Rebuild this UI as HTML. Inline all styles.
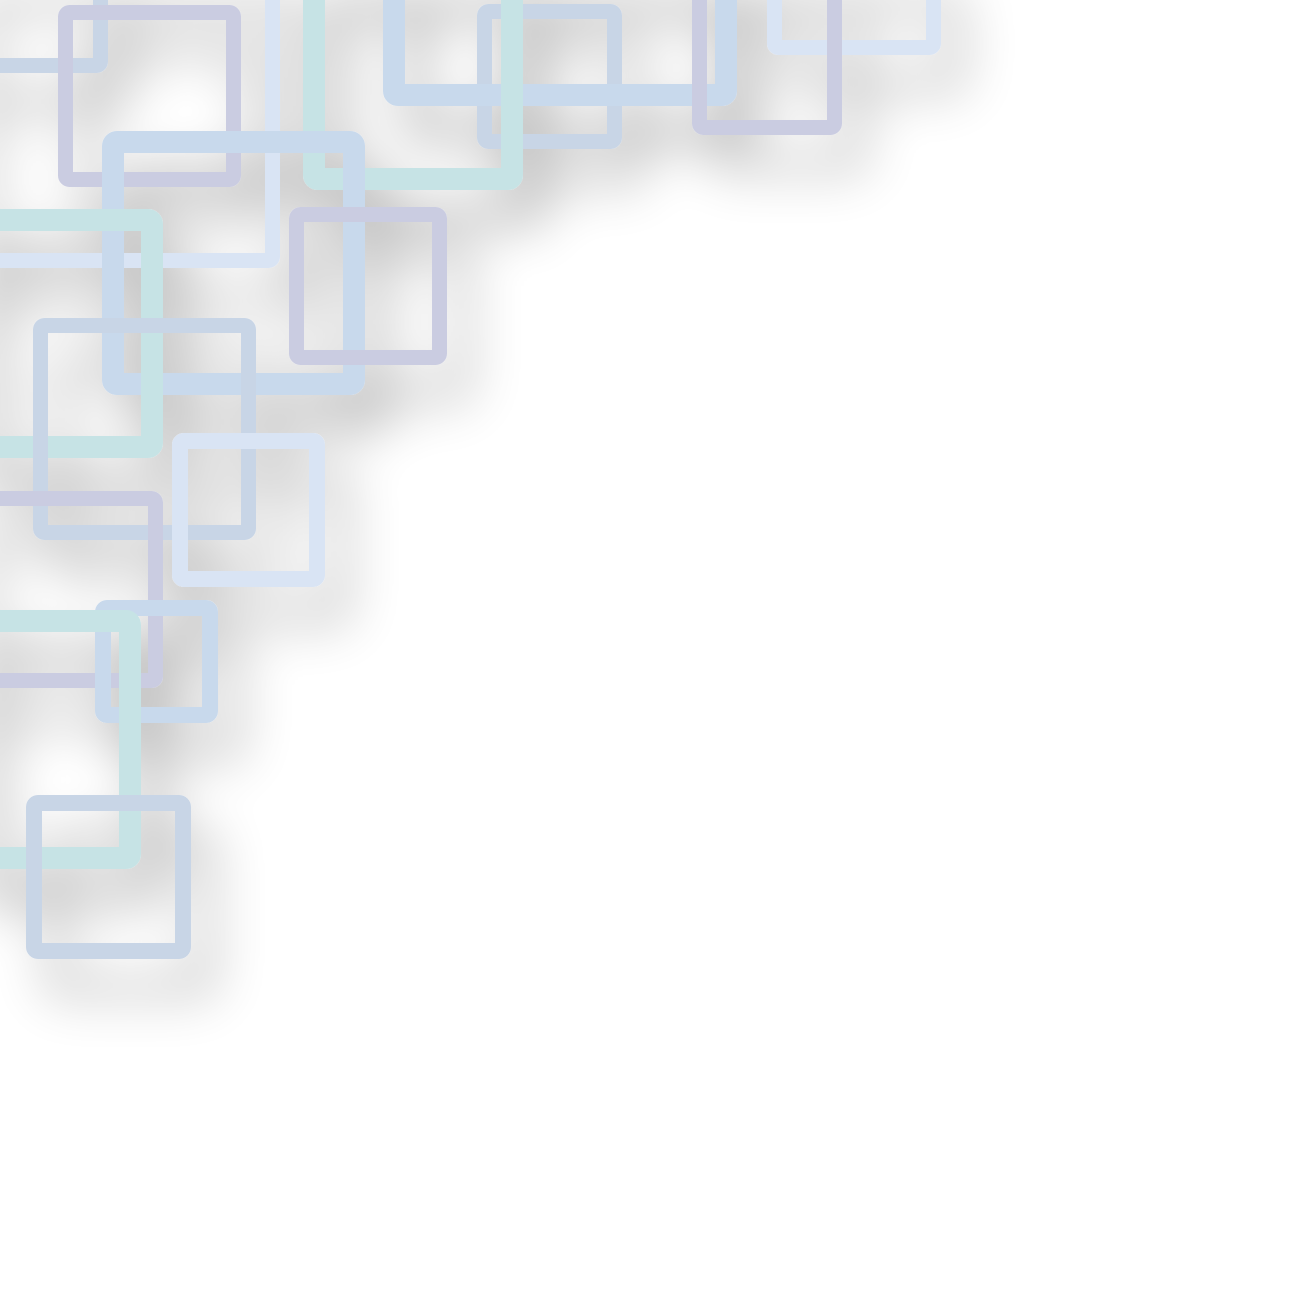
<!DOCTYPE html>
<html><head><meta charset="utf-8"><style>
html,body{margin:0;padding:0;background:#fff;width:1300px;height:1302px;overflow:hidden}
svg{display:block}
</style></head><body>
<svg width="1300" height="1302" viewBox="0 0 1300 1302" xmlns="http://www.w3.org/2000/svg">
<defs>
<filter id="sh" x="-50%" y="-50%" width="200%" height="200%">
<feGaussianBlur in="SourceAlpha" stdDeviation="26"/>
<feOffset dx="22" dy="36" result="b"/>
<feComponentTransfer><feFuncA type="linear" slope="0.3"/></feComponentTransfer>
<feMerge><feMergeNode/><feMergeNode in="SourceGraphic"/></feMerge>
</filter>
</defs>
<g id="sq" filter="url(#sh)" fill="none" stroke-linejoin="round"></g>
</svg>
<script>
// [x1,y1,x2,y2 outer bounds, stroke width, colour]
const squares = [
 [-40,-40,108,73,15,'#c8d5e6'],
 [58,5,241,187,15,'#cacce1'],
 [-40,-40,280,268,15,'#d9e4f4'],
 [477,4,622,149,15,'#c8d5e6'],
 [383,-40,737,106,22,'#c8d9ec'],
 [303,-40,523,190,22,'#c6e3e5'],
 [767,-40,941,55,15,'#d9e4f4'],
 [692,-40,842,135,15,'#cacce1'],
 [102,131,365,395,22,'#c8d9ec'],
 [289,207,447,365,15,'#cacce1'],
 [-40,209,163,458,22,'#c6e3e5'],
 [33,318,256,540,15,'#c8d5e6'],
 [172,433,325,587,16,'#d9e4f4'],
 [-40,491,163,688,15,'#cacce1'],
 [95,600,218,723,16,'#c8d9ec'],
 [-40,610,141,869,22,'#c6e3e5'],
 [26,795,191,959,16,'#c8d5e6']
];
const g=document.getElementById('sq');
squares.forEach((s,i)=>{
 const [x1,y1,x2,y2,w,c]=s;
 const r=document.createElementNS('http://www.w3.org/2000/svg','rect');
 
 
 r.setAttribute('x',x1+w/2);r.setAttribute('y',y1+w/2);
 r.setAttribute('width',x2-x1-w);r.setAttribute('height',y2-y1-w);
 r.setAttribute('rx',4);
 r.setAttribute('stroke',c);r.setAttribute('stroke-width',w);
 g.appendChild(r);
});
</script>
</body></html>
